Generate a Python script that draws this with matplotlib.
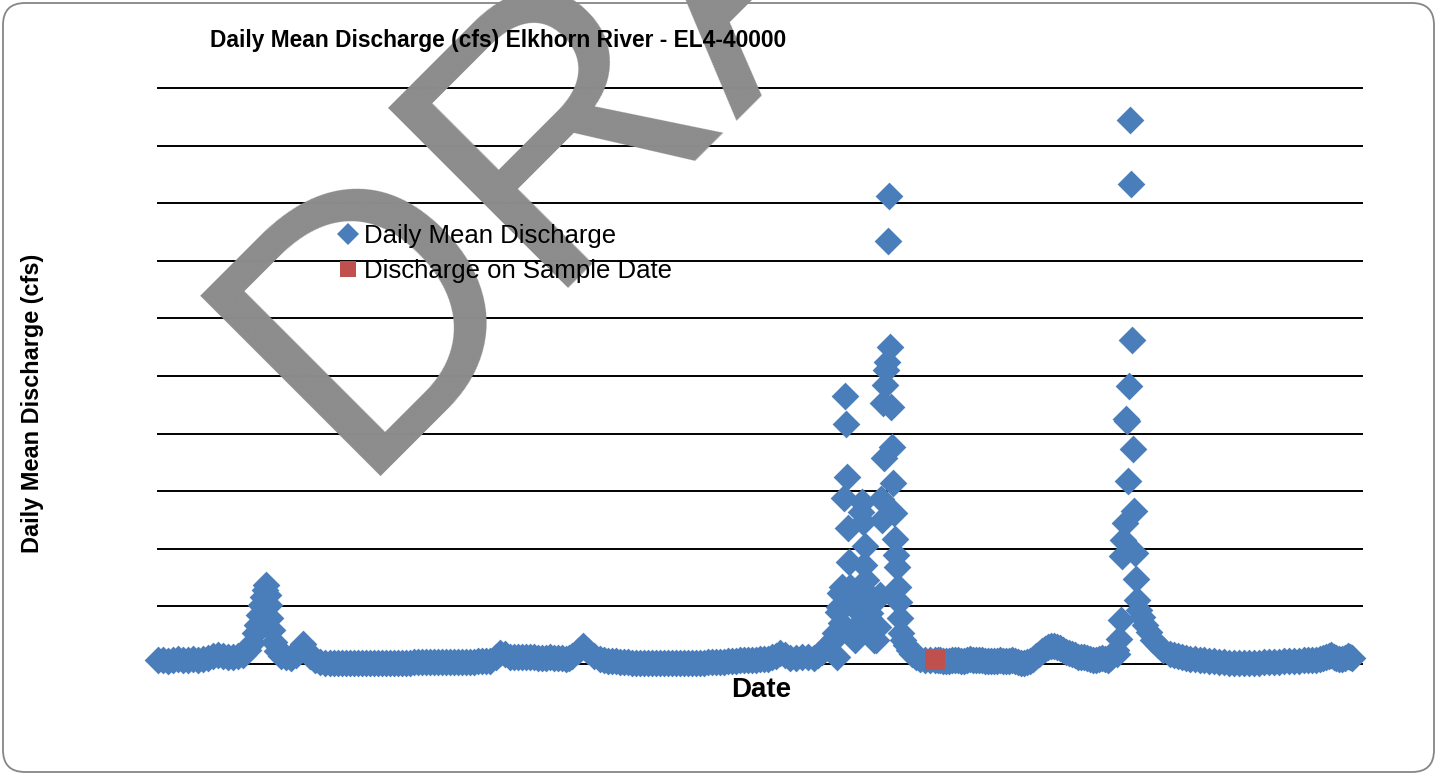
"""Daily mean discharge scatter for the Elkhorn River (EL4-40000), Excel style with DRAFT mark."""

import matplotlib
matplotlib.use("Agg")
import matplotlib.pyplot as plt
from matplotlib.lines import Line2D
from matplotlib.patches import FancyBboxPatch

# day offset from start of record (rows line up with the discharge rows below)
days = [
    0, 5, 10, 15, 20, 25, 30, 35, 40, 45, 50, 55, 60, 65, 70, 75, 80, 85,
    90, 94, 97, 99, 101, 103, 105, 107, 108, 110, 111, 112, 114, 116, 119, 123,
    128, 133, 138, 142, 145, 148, 152, 157, 162, 167,
    172, 176, 180, 184, 188, 192, 196, 200, 204, 208,
    212, 216, 220, 224, 228, 232, 236, 240, 244, 248,
    252, 256, 260, 264, 268, 272, 276, 280, 284, 288,
    292, 296, 300, 304, 308, 312, 316, 320, 324, 328, 332,
    338, 342, 347, 352, 356, 360, 364, 368, 372, 376,
    380, 384, 388, 392, 396, 400, 404, 408, 411, 414,
    420, 425, 430, 436,
    442, 446, 450, 454, 458, 462, 466, 470, 474, 478,
    482, 486, 490, 494, 498, 502, 506, 510, 514, 518,
    522, 526, 530, 534, 538, 542, 546, 550, 554, 558,
    562, 566, 570, 574, 578, 582, 586, 590, 594, 598,
    602, 606, 610, 614, 618,
    622, 627, 632, 638, 644, 650, 656, 660, 664, 668,
    669, 672, 675, 677, 679, 680, 681, 682, 683, 684, 686, 687, 688, 689, 690,
    691, 692, 694, 695, 697, 699, 700, 702, 703, 704, 705, 706, 707, 708, 709,
    710, 711, 712, 714, 716, 718, 720, 721, 722, 723, 724, 725, 726, 727, 728,
    729, 730, 731, 732, 733, 734, 735, 736, 737, 738, 739, 740, 741, 742, 743,
    745, 748, 751, 754, 758, 762, 767, 772,
    777, 780, 782, 785, 788, 791, 794, 797, 800, 803,
    806, 809, 812, 815, 818, 821, 824, 827, 830, 833,
    836, 839, 842, 845, 848, 851, 854, 857, 860, 863,
    866, 869, 872, 875, 878, 881, 884, 887, 890, 893,
    896, 899, 902, 905, 908, 911, 914, 917, 920, 923,
    926, 929, 932, 935, 938, 941, 944, 947, 950, 952,
    954, 956, 958,
    959, 961, 963, 964, 965, 967, 968, 969, 970, 971, 972, 973, 974, 975, 976,
    977, 978, 979,
    981, 984, 987, 991, 995, 1000, 1005, 1012, 1016, 1020, 1024, 1028, 1032,
    1037, 1042, 1046, 1051, 1056, 1061, 1066, 1071, 1076, 1081,
    1086, 1091, 1096, 1101, 1106, 1111, 1116, 1121, 1126, 1131,
    1136, 1141, 1146, 1150, 1154, 1158, 1162, 1165, 1168, 1171,
    1173, 1176, 1178, 1181, 1184, 1187, 1190, 1192, 1194,
]

# daily mean discharge, cfs
discharge = [
    70, 70, 50, 70, 85, 70, 70, 85, 70, 85, 105, 140, 155, 140, 120, 120, 140, 155,
    245, 365, 540, 675, 850, 1025, 1165, 1285, 1370, 1200, 1025, 800, 590, 380, 225, 140,
    120, 105, 155, 280, 345, 245, 140, 70, 35, 25,
    20, 19, 18, 18, 17, 17, 17, 17, 17, 18,
    18, 18, 18, 19, 20, 20, 20, 21, 22, 24,
    25, 28, 30, 33, 35, 38, 40, 39, 38, 39,
    40, 40, 40, 41, 42, 42, 42, 44, 45, 45, 45,
    120, 190, 170, 130, 125, 120, 122, 125, 120, 115,
    112, 110, 112, 115, 110, 105, 100, 95, 110, 140,
    230, 310, 230, 140,
    80, 70, 60, 52, 45, 40, 35, 30, 25, 22,
    20, 19, 18, 18, 18, 17, 17, 17, 17, 17,
    18, 19, 20, 20, 20, 22, 25, 28, 30, 32,
    35, 40, 45, 50, 55, 62, 70, 68, 65, 72,
    80, 88, 95, 115, 140,
    190, 150, 110, 100, 120, 130, 110, 150, 200, 300,
    295, 365, 415, 540, 120, 900, 990, 1235, 710, 1335, 2880, 4650, 4165, 3245, 2360,
    1770, 1335, 1025, 590, 415, 470, 675, 1075, 2640, 2810, 2465, 1720, 2050, 1460, 1235,
    1025, 800, 885, 590, 415, 415, 640, 1165, 1200, 2865, 2500, 4530, 3575, 4845, 5105,
    5245, 7345, 8125, 5505, 4460, 3765, 3140, 2620, 2170, 1890, 1685, 1335, 1075, 800, 540,
    415, 330, 245, 175, 120, 85, 70, 70,
    70, 70, 70, 60, 50, 60, 70, 70, 70, 60,
    50, 70, 85, 78, 70, 70, 70, 60, 50, 50,
    50, 60, 70, 60, 50, 60, 70, 50, 35, 25,
    17, 30, 50, 95, 140, 180, 225, 260, 295, 305,
    310, 295, 280, 245, 210, 190, 175, 150, 120, 120,
    120, 100, 85, 78, 70, 85, 105, 85, 70, 100,
    140, 190, 245,
    174, 434, 764, 1875, 2153, 2448, 4253, 4219, 3177, 4826, 9444, 8333, 5625, 3733, 2656,
    1927, 1476, 1111,
    935, 815, 675, 555, 415, 330, 245, 175, 155, 140, 120, 105, 95,
    85, 78, 70, 60, 50, 42, 35, 25, 17, 17,
    17, 17, 17, 25, 35, 35, 35, 42, 50, 50,
    50, 60, 70, 70, 70, 78, 85, 100, 120, 140,
    155, 125, 105, 95, 85, 110, 140, 120, 105,
]

sample_day = [777]
sample_discharge = [70]

y_ticks = [0, 1000, 2000, 3000, 4000, 5000, 6000, 7000, 8000, 9000, 10000]

BLUE = "#4A7EBB"
RED = "#C0504D"
W, H = 1437, 775


def main() -> None:
    # 1. Setup
    plt.rcParams["font.family"] = ["Liberation Sans", "DejaVu Sans"]
    fig = plt.figure(figsize=(W / 100, H / 100), dpi=100)
    ax = fig.add_axes([158 / W, 1 - 664 / H, (1362 - 158) / W, (664 - 88) / H])

    # 2. Data
    ax.scatter(days, discharge, marker="D", s=200, color=BLUE, linewidths=0,
               clip_on=False, zorder=3)
    ax.scatter(sample_day, sample_discharge, marker="s", s=210, color=RED,
               linewidths=0, clip_on=False, zorder=4)

    # 3. Axes styling (Excel-like: gridlines only, no tick labels)
    ax.set_xlim(0, 1204)
    ax.set_ylim(0, 10000)
    ax.set_yticks(y_ticks)
    ax.set_xticks([])
    ax.tick_params(left=False, labelleft=False)
    ax.grid(axis="y", color="black", linewidth=1.4)
    for gl in ax.yaxis.get_gridlines():
        gl.set_clip_on(False)
    ax.set_axisbelow(True)
    for sp in ax.spines.values():
        sp.set_visible(False)

    # 4. Text
    fig.text(210 / W, 1 - 41 / H, "Daily Mean Discharge (cfs) Elkhorn River - EL4-40000",
             fontsize=16.4, fontweight="bold", ha="left", va="center", zorder=6)
    fig.text(761 / W, 1 - 690 / H, "Date", fontsize=20, fontweight="bold",
             ha="center", va="center", zorder=6)
    fig.text(33 / W, 1 - 403 / H, "Daily Mean Discharge (cfs)", fontsize=16.9,
             fontweight="bold", rotation=90, ha="center", va="center", zorder=6)

    handles = [
        Line2D([], [], marker="D", ls="none", color=BLUE, ms=11.5, mew=0),
        Line2D([], [], marker="s", ls="none", color=RED, ms=12, mew=0),
    ]
    leg = fig.legend(handles, ["Daily Mean Discharge", "Discharge on Sample Date"],
                     loc="upper left", bbox_to_anchor=(338 / W, 1 - 224 / H),
                     frameon=False, fontsize=18.5, handlelength=0.8,
                     handletextpad=0.2, labelspacing=0.42, borderpad=0,
                     borderaxespad=0)
    leg.set_zorder(6)

    # 5. Watermark and chart border
    fig.text(350 / W, 1 - 476 / H, "DRAFT", fontsize=266, color="#8c8c8c",
             rotation=45, rotation_mode="anchor", ha="left", va="baseline", zorder=4)
    fig.patches.append(FancyBboxPatch((3, 3), W - 6, H - 6,
                                      boxstyle="round,pad=0,rounding_size=22",
                                      transform=None, fill=False,
                                      edgecolor="#868686", linewidth=1.3))

    fig.savefig("out.png", dpi=100)
    plt.close(fig)


if __name__ == "__main__":
    main()
